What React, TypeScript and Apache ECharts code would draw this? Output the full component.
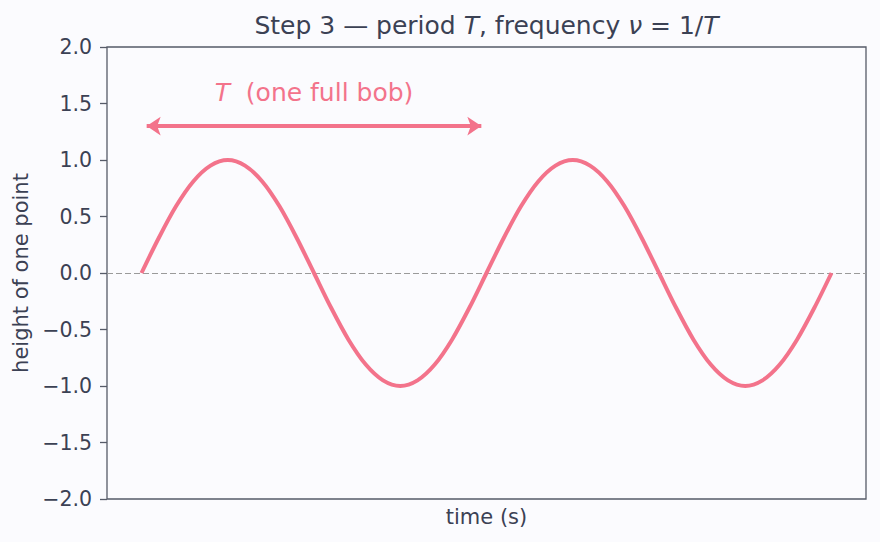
import React, { useEffect, useRef } from "react";
import * as echarts from "echarts";

// time (in units of the period T), sampled every 0.05 T
const timeValues = [
  0, 0.05, 0.1, 0.15, 0.2, 0.25, 0.3, 0.35, 0.4, 0.45, 0.5, 0.55, 0.6, 0.65, 0.7, 0.75, 0.8, 0.85, 0.9, 0.95,
  1.0, 1.05, 1.1, 1.15, 1.2, 1.25, 1.3, 1.35, 1.4, 1.45, 1.5, 1.55, 1.6, 1.65, 1.7, 1.75, 1.8, 1.85, 1.9, 1.95, 2.0,
];
// height of one point
const heightValues = [
  0, 0.31, 0.59, 0.81, 0.95, 1.0, 0.95, 0.81, 0.59, 0.31, 0, -0.31, -0.59, -0.81, -0.95, -1.0, -0.95, -0.81, -0.59, -0.31,
  0, 0.31, 0.59, 0.81, 0.95, 1.0, 0.95, 0.81, 0.59, 0.31, 0, -0.31, -0.59, -0.81, -0.95, -1.0, -0.95, -0.81, -0.59, -0.31, 0,
];
const yTicks = [-2.0, -1.5, -1.0, -0.5, 0.0, 0.5, 1.0, 1.5, 2.0];
const arrowStart = [0.015, 1.3];
const arrowEnd = [0.985, 1.3];
const annotationPos = [0.5, 1.6];

const PINK = "#f3738b";
const TEXT = "#3b4154";
const AXIS = "#565b68";
const FONT = "DejaVu Sans";

export default function App() {
  const ref = useRef<HTMLDivElement>(null);
  useEffect(() => {
    document.body.style.margin = "0";
    const chart = echarts.init(ref.current!, null, { renderer: "svg" });
    chart.setOption({
      animation: false,
      backgroundColor: "#fbfbfe",
      textStyle: { fontFamily: FONT },
      graphic: [
        {
          type: "text",
          x: 486.5,
          y: 25,
          style: {
            text: "{n|Step 3 — period }{i|T}{n|, frequency }{i|ν}{n| = 1/}{i|T}",
            align: "center",
            verticalAlign: "middle",
            rich: {
              n: { fontFamily: FONT, fontSize: 25, fill: TEXT, color: TEXT },
              i: { fontFamily: FONT, fontSize: 25, fill: TEXT, color: TEXT, fontStyle: "italic" },
            },
          },
        },
      ],
      grid: {
        left: 107,
        right: 14,
        top: 47,
        bottom: 43,
        show: true,
        borderColor: AXIS,
        borderWidth: 1.3,
        backgroundColor: "#fbfbfe",
      },
      xAxis: {
        type: "value",
        min: -0.1,
        max: 2.1,
        name: "time (s)",
        nameLocation: "middle",
        nameGap: 7,
        nameTextStyle: { fontFamily: FONT, fontSize: 21, color: TEXT, verticalAlign: "top" },
        axisLine: { show: false, onZero: false },
        axisTick: { show: false },
        axisLabel: { show: false },
        splitLine: { show: false },
      },
      yAxis: {
        type: "value",
        min: yTicks[0],
        max: yTicks[yTicks.length - 1],
        interval: 0.5,
        name: "height of one point",
        nameLocation: "middle",
        nameGap: 74,
        nameTextStyle: { fontFamily: FONT, fontSize: 21, color: TEXT },
        axisLine: { show: false, onZero: false },
        axisTick: { show: true, length: 7, lineStyle: { color: AXIS, width: 1.3 } },
        axisLabel: {
          fontFamily: FONT,
          fontSize: 20.5,
          color: TEXT,
          margin: 15,
          formatter: (v: number) => (v < 0 ? "\u2212" + Math.abs(v).toFixed(1) : v.toFixed(1)),
        },
        splitLine: { show: false },
      },
      series: [
        {
          type: "line",
          data: timeValues.map((t, i) => [t, heightValues[i]]),
          smooth: 0.3,
          symbol: "none",
          lineStyle: { color: PINK, width: 4 },
          z: 3,
          markLine: {
            silent: true,
            symbol: ["none", "none"],
            label: { show: false },
            lineStyle: { color: "#9a9a9a", type: [6, 3], width: 1.2 },
            data: [{ yAxis: 0 }],
            z: 1,
          },
        },
        {
          type: "line",
          data: [],
          markLine: {
            silent: true,
            symbol: ["arrow", "arrow"],
            symbolSize: [14, 14],
            label: { show: false },
            lineStyle: { color: PINK, width: 4, type: "solid" },
            data: [[{ coord: arrowStart }, { coord: arrowEnd }]],
          },
          markPoint: {
            silent: true,
            symbol: "circle",
            symbolSize: 0,
            data: [
              {
                coord: annotationPos,
                label: {
                  show: true,
                  position: "inside",
                  formatter: "{i|T}{n|  (one full bob)}",
                  rich: {
                    i: { fontFamily: FONT, fontSize: 25, color: PINK, fontStyle: "italic" },
                    n: { fontFamily: FONT, fontSize: 25, color: PINK },
                  },
                },
              },
            ],
          },
        },
      ],
    });
    return () => chart.dispose();
  }, []);
  return <div ref={ref} style={{ width: 880, height: 542 }} />;
}
